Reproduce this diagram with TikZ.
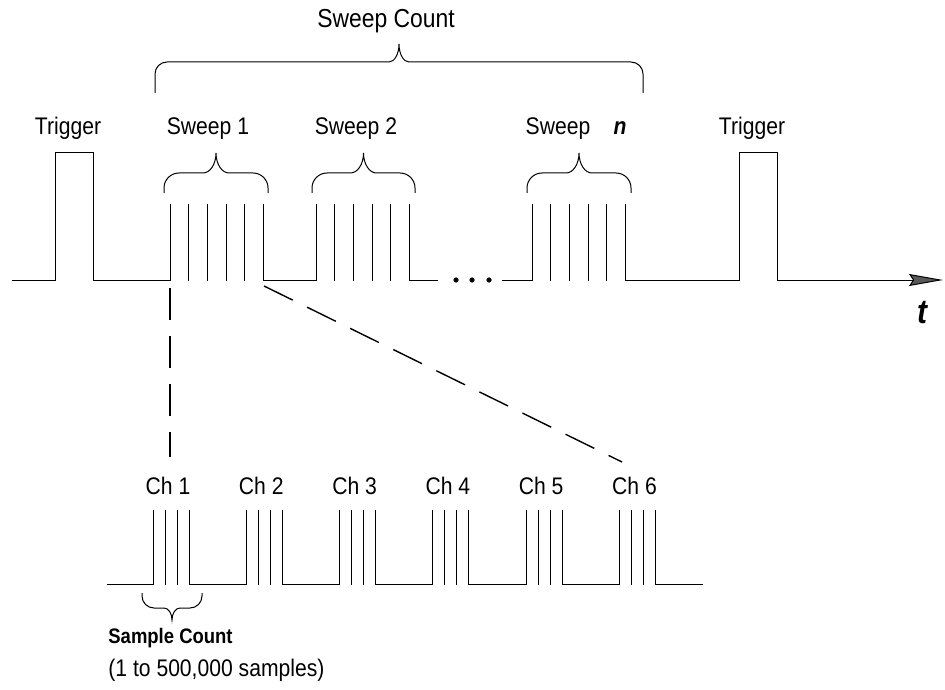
\documentclass[tikz,border=0pt]{standalone}
\usepackage{fontspec}
\setmainfont{Liberation Sans}[FakeStretch=0.88]
\usetikzlibrary{arrows.meta, calc}

% curly bracket: x1, x2, leg end, bar, tip, corner, cusp
\newcommand{\cbrace}[7]{%
  \pgfmathsetmacro{\brmid}{(#1+#2)/2}%
  \pgfmathsetmacro{\brsgn}{(#3>#4) ? 1 : -1}%
  \draw[curly] (#1,#3) -- (#1,{#4+\brsgn*#6})
    .. controls (#1,{#4+\brsgn*0.448*#6}) and ({#1+0.448*#6},#4) .. ({#1+#6},#4)
    -- ({\brmid-#7},#4)
    .. controls ({\brmid-0.448*#7},#4) and (\brmid,{#5+0.552*(#4-#5)}) .. (\brmid,#5)
    .. controls (\brmid,{#5+0.552*(#4-#5)}) and ({\brmid+0.448*#7},#4) .. ({\brmid+#7},#4)
    -- ({#2-#6},#4)
    .. controls ({#2-0.448*#6},#4) and (#2,{#4+\brsgn*0.448*#6}) .. (#2,{#4+\brsgn*#6})
    -- (#2,#3);}

\begin{document}
\begin{tikzpicture}[
    x=0.5pt, y=-0.5pt,
    wave/.style = {line width=0.5pt, line cap=rect},
    curly/.style = {line width=0.5pt},
    zoomline/.style = {line width=0.7pt, dash pattern=on 16pt off 8pt},
    lbl/.style = {inner sep=0pt, anchor=base, font=\fontsize{12}{14}\selectfont}
  ]
  \useasboundingbox (0,0) rectangle (945,689);

  % top trace
  \draw[wave] (12,280) -- (55,280) -- (55,153) -- (93,153) -- (93,280) -- (170,280);
  \foreach \s in {170,316,532}
    \foreach \i in {0,...,5}
      \draw[wave] ({\s+\i*18.7},205) -- ({\s+\i*18.7},280);
  \draw[wave] (263.5,280) -- (316,280);
  \draw[wave] (409.5,280) -- (437,280);
  \draw[wave] (502,280) -- (532,280);
  \foreach \d in {456,472,489}
    \fill (\d,280) circle (1.3pt);
  \draw[wave, -{Stealth[length=17pt, width=6pt, inset=2pt, fill=black!65]}]
    (625.5,280) -- (739,280) -- (739,153) -- (777,153) -- (777,280) -- (943,280);

  \node[lbl, font=\fontsize{13}{15}\selectfont] (sweepcount) at (386,28) {Sweep Count};
  \node[lbl] (trig1) at (68,135) {Trigger};
  \node[lbl] (sweep1) at (208,135) {Sweep 1};
  \node[lbl] (sweep2) at (356,135) {Sweep 2};
  \node[lbl] (sweepn) at (558,135) {Sweep};
  \node[lbl, font=\fontsize{12}{14}\selectfont\bfseries\itshape] (nlabel) at (620,135) {n};
  \node[lbl] (trig2) at (752,135) {Trigger};
  \node[lbl, font=\fontsize{17}{19}\selectfont\bfseries\itshape] (tlabel) at (922,323) {t};

  \cbrace{155}{643}{93}{62}{44}{12}{10}
  \cbrace{164}{268}{193}{173}{153}{15}{13}
  \cbrace{312}{415}{193}{173}{153}{15}{13}
  \cbrace{527}{631}{193}{173}{153}{15}{13}

  % bottom trace, one group per channel
  \draw[wave] (107,584) -- (153,584);
  \foreach \c in {1,...,6} {
    \pgfmathsetmacro{\g}{153+(\c-1)*93.3}
    \foreach \i in {0,...,3}
      \draw[wave] ({\g+\i*12},510) -- ({\g+\i*12},584);
    \ifnum\c<6
      \draw[wave] ({\g+36},584) -- ({\g+93.3},584);
    \fi
    \node[lbl] (ch\c) at ({\g+15},494) {Ch \c};
  }
  \draw[wave] (655.5,584) -- (702,584);

  \cbrace{142}{202}{593}{608}{620}{12}{8}
  \node[lbl, anchor=base west, font=\fontsize{10.5}{12}\selectfont\bfseries] (samplecount) at (108,643) {Sample Count};
  \node[lbl, anchor=base west] (samplerange) at (108,676) {(1 to 500,000 samples)};

  % zoom from sweep 1 to the channels
  \coordinate (s1left) at (170,288);
  \coordinate (s1right) at (264,286);
  \coordinate (ch1top) at (170,457);
  \coordinate (ch6top) at (622,462);
  \draw[zoomline] (s1left) -- (ch1top);
  \draw[zoomline] (s1right) -- (ch6top);
\end{tikzpicture}
\end{document}
